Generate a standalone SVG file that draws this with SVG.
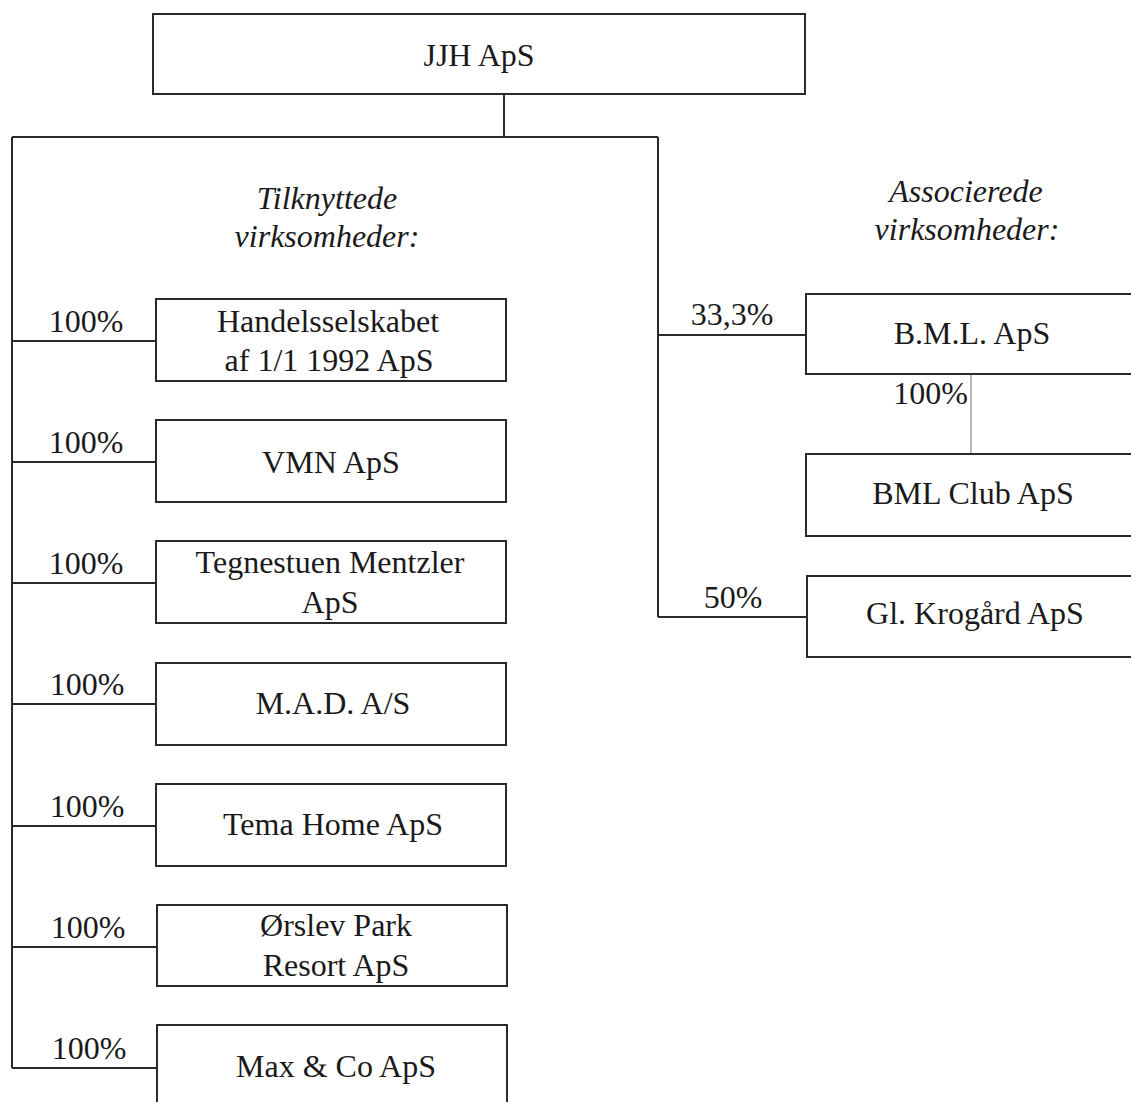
<svg xmlns="http://www.w3.org/2000/svg" width="1131" height="1102" viewBox="0 0 1131 1102">
<style>
.box{fill:#fff;stroke:#2a2a2a;stroke-width:2}
.ln{fill:none;stroke:#2a2a2a;stroke-width:2}
.thin{fill:none;stroke:#8a8a8a;stroke-width:1.2}
text{font-family:"Liberation Serif","Times New Roman",serif;font-size:32px;fill:#1a1a1a}
.c{text-anchor:middle}
.it{font-style:italic}
</style>
<rect width="1131" height="1102" fill="#fff"/>
<g id="connectors">
<polyline class="ln" points="504,94 504,137"/>
<polyline class="ln" points="12,137 658,137"/>
<polyline class="ln" points="12,137 12,1068"/>
<polyline class="ln" points="658,137 658,617"/>
<polyline class="ln" points="12,341 156,341"/>
<polyline class="ln" points="12,462 156,462"/>
<polyline class="ln" points="12,583 156,583"/>
<polyline class="ln" points="12,704 156,704"/>
<polyline class="ln" points="12,826 156,826"/>
<polyline class="ln" points="12,947 156,947"/>
<polyline class="ln" points="12,1068 156,1068"/>
<polyline class="ln" points="658,335 806,335"/>
<polyline class="ln" points="658,617 806,617"/>
<polyline class="thin" points="971,374 971,454"/>
<text class="c" x="86" y="332">100%</text>
<text class="c" x="86" y="453">100%</text>
<text class="c" x="86" y="574">100%</text>
<text class="c" x="87" y="695">100%</text>
<text class="c" x="87" y="817">100%</text>
<text class="c" x="88" y="938">100%</text>
<text class="c" x="89" y="1059">100%</text>
<text class="c" x="732" y="325">33,3%</text>
<text class="c" x="733" y="608">50%</text>
<text x="968" y="404" text-anchor="end">100%</text>
</g>
<g id="headers">
<text class="c it" x="327" y="209">Tilknyttede</text>
<text class="c it" x="327" y="247">virksomheder:</text>
<text class="c it" x="966" y="202">Associerede</text>
<text class="c it" x="967" y="240">virksomheder:</text>
</g>
<g id="jjh"><rect class="box" x="153" y="14" width="652" height="80"/><text class="c" x="479" y="66">JJH ApS</text></g>
<g id="handels"><rect class="box" x="156" y="299" width="350" height="82"/><text class="c" x="328" y="332">Handelsselskabet</text><text class="c" x="329" y="371">af 1/1 1992 ApS</text></g>
<g id="vmn"><rect class="box" x="156" y="420" width="350" height="82"/><text class="c" x="331" y="473">VMN ApS</text></g>
<g id="tegnestuen"><rect class="box" x="156" y="541" width="350" height="82"/><text class="c" x="330" y="573">Tegnestuen Mentzler</text><text class="c" x="330" y="613">ApS</text></g>
<g id="mad"><rect class="box" x="156" y="663" width="350" height="82"/><text class="c" x="333" y="714">M.A.D. A/S</text></g>
<g id="tema"><rect class="box" x="156" y="784" width="350" height="82"/><text class="c" x="333" y="835">Tema Home ApS</text></g>
<g id="orslev"><rect class="box" x="157" y="905" width="350" height="81"/><text class="c" x="336" y="936">Ørslev Park</text><text class="c" x="336" y="976">Resort ApS</text></g>
<g id="max"><rect class="box" x="157" y="1025" width="350" height="100"/><text class="c" x="336" y="1077">Max &amp; Co ApS</text></g>
<g id="bml"><rect class="box" x="806" y="294" width="340" height="80"/><text class="c" x="972" y="344">B.M.L. ApS</text></g>
<g id="bmlclub"><rect class="box" x="806" y="454" width="340" height="82"/><text class="c" x="973" y="504">BML Club ApS</text></g>
<g id="krogaard"><rect class="box" x="807" y="576" width="340" height="81"/><text class="c" x="975" y="624">Gl. Krogård ApS</text></g>
</svg>
